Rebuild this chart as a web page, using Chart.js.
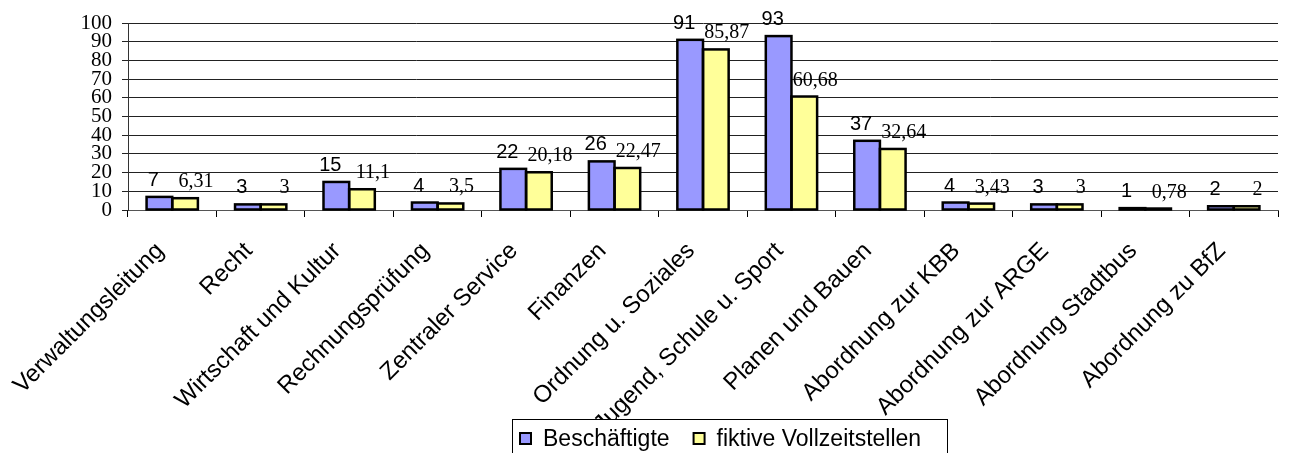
<!DOCTYPE html>
<html><head><meta charset="utf-8">
<script src="https://cdn.jsdelivr.net/npm/chart.js@4.4.0/dist/chart.umd.min.js"></script>
<style>html,body{margin:0;padding:0;background:#fff;overflow:hidden}</style>
</head><body>
<canvas id="c" width="1289" height="453" style="display:block;width:1289px;height:453px"></canvas>
<script>
const categories = ['Verwaltungsleitung','Recht','Wirtschaft und Kultur','Rechnungsprüfung','Zentraler Service','Finanzen','Ordnung u. Soziales','Jugend, Schule u. Sport','Planen und Bauen','Abordnung zur KBB','Abordnung zur ARGE','Abordnung Stadtbus','Abordnung zu BfZ'];
const beschaeftigte = [7, 3, 15, 4, 22, 26, 91, 93, 37, 4, 3, 1, 2];
const vollzeitstellen = [6.31, 3, 11.1, 3.5, 20.18, 22.47, 85.87, 60.68, 32.64, 3.43, 3, 0.78, 2];
const seriesNames = ['Beschäftigte', 'fiktive Vollzeitstellen'];
const yTicks = [0, 10, 20, 30, 40, 50, 60, 70, 80, 90, 100];

const fmt = v => String(v).replace('.', ',');

// Excel-style outline: stroke centred on each bar's edges (uses the bar elements' own geometry)
const barOutline = {
  id: 'barOutline',
  afterDatasetsDraw(chart) {
    const ctx = chart.ctx;
    ctx.save();
    ctx.strokeStyle = '#000';
    ctx.lineWidth = 2.5;
    ctx.lineJoin = 'miter';
    chart.data.datasets.forEach((ds, i) => {
      chart.getDatasetMeta(i).data.forEach(bar => {
        const { x, y, base, width } = bar.getProps(['x', 'y', 'base', 'width'], true);
        ctx.strokeRect(x - width / 2, y, width, base - y);
      });
    });
    ctx.restore();
  }
};

const valueLabels = {
  id: 'valueLabels',
  afterDatasetsDraw(chart) {
    const ctx = chart.ctx;
    chart.data.datasets.forEach((ds, i) => {
      const meta = chart.getDatasetMeta(i);
      meta.data.forEach((bar, j) => {
        ctx.save();
        ctx.fillStyle = '#000';
        ctx.textAlign = 'center';
        ctx.textBaseline = 'alphabetic';
        if (i === 0) {
          ctx.font = '20px "Liberation Sans", Arial, sans-serif';
          ctx.fillText(fmt(ds.data[j]), bar.x - 6, bar.y - 11);
        } else {
          ctx.font = '20px "Liberation Serif", "Times New Roman", serif';
          ctx.fillText(fmt(ds.data[j]), bar.x + 11, bar.y - 11);
        }
        ctx.restore();
      });
    });
  }
};

const boxLegend = {
  id: 'boxLegend',
  afterDraw(chart) {
    const ctx = chart.ctx;
    ctx.save();
    ctx.fillStyle = '#fff';
    ctx.fillRect(512, 419, 436, 40);
    ctx.strokeStyle = '#000';
    ctx.lineWidth = 1;
    ctx.strokeRect(512.5, 419.5, 435, 40);
    ctx.font = '23px "Liberation Sans", Arial, sans-serif';
    ctx.textBaseline = 'middle';
    ctx.textAlign = 'left';
    let x = 520;
    chart.data.datasets.forEach(ds => {
      ctx.fillStyle = ds.backgroundColor;
      ctx.fillRect(x, 433, 11, 11);
      ctx.lineWidth = 2;
      ctx.strokeStyle = '#000';
      ctx.strokeRect(x, 433, 11, 11);
      ctx.fillStyle = '#000';
      ctx.fillText(ds.label, x + 23, 440);
      x += 23 + ctx.measureText(ds.label).width + 24;
    });
    ctx.restore();
  }
};

new Chart(document.getElementById('c'), {
  type: 'bar',
  data: {
    labels: categories,
    datasets: [
      { label: seriesNames[0], data: beschaeftigte, backgroundColor: '#9999FF', borderWidth: 0 },
      { label: seriesNames[1], data: vollzeitstellen, backgroundColor: '#FFFF99', borderWidth: 0 }
    ]
  },
  options: {
    responsive: false,
    animation: false,
    devicePixelRatio: 1,
    layout: { padding: { left: 0, right: 11, top: 23, bottom: 0 } },
    categoryPercentage: 0.58,
    barPercentage: 1.0,
    plugins: { legend: { display: false }, tooltip: { enabled: false } },
    scales: {
      x: {
        ticks: { autoSkip: false, maxRotation: 45, minRotation: 45, color: '#000', padding: 20, labelOffset: -12,
                 font: { family: '"Liberation Sans", Arial, sans-serif', size: 24 } },
        grid: { display: true, drawOnChartArea: false, drawTicks: true, tickLength: 7, color: '#000', offset: true },
        border: { color: '#555', width: 1 },
        afterFit: s => { s.height = 243; }
      },
      y: {
        min: 0, max: 100,
        afterBuildTicks: s => { s.ticks = yTicks.map(v => ({ value: v })); },
        ticks: { autoSkip: false, color: '#000', padding: 10,
                 font: { family: '"Liberation Serif", "Times New Roman", serif', size: 21 } },
        grid: { color: '#222', lineWidth: 1, tickLength: 6, drawTicks: true },
        border: { color: '#333', width: 1 },
        afterFit: s => { s.width = 128; }
      }
    }
  },
  plugins: [barOutline, valueLabels, boxLegend]
});
</script>
</body></html>
